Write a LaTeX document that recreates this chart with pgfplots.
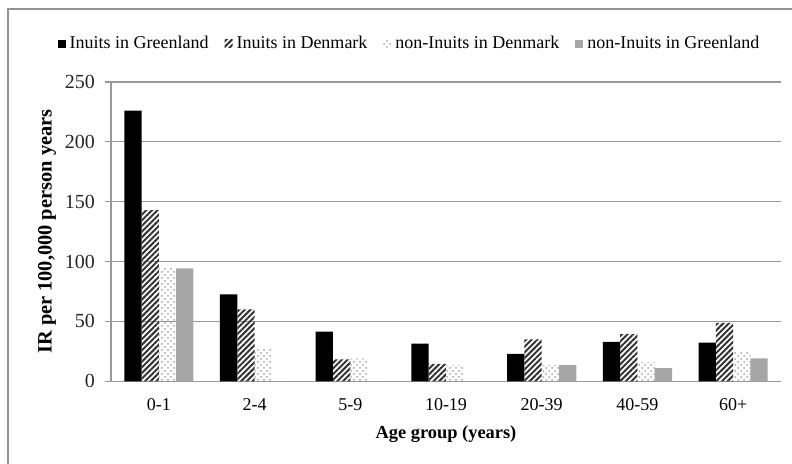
\documentclass[border=0pt]{standalone}
\usepackage{pgfplots}
\pgfplotsset{compat=1.18}
\usepackage{pgfplotstable}
\usepackage{fontspec}
\setmainfont{Liberation Serif}
\usetikzlibrary{patterns,patterns.meta}
\pgfplotstableread{
x A B C D
0 226 143 95 94.4
1 72.7 60 27 0
2 41.4 18.4 19 0
3 31.4 14.5 13.6 0
4 23 35 13.6 13.6
5 33 39.5 16 10.9
6 32.2 48.7 24.7 19.2
}\datatab
\begin{document}
\begin{tikzpicture}
\begin{axis}[
  at={(55.5pt,41.35pt)}, anchor=south west,
  scale only axis, width=335pt, height=149.65pt,
  ybar=0pt, bar width=8.65pt,
  xmin=-0.5, xmax=6.5, ymin=0, ymax=250,
  xtick={0,...,6},
  xticklabels={0-1,2-4,5-9,10-19,20-39,40-59,60+},
  x tick style={draw=none},
  extra x ticks={-0.5,0.5,1.5,2.5,3.5,4.5,5.5,6.5},
  extra x tick labels={},
  extra x tick style={major tick length=3pt, tick align=outside, tick style={draw=gray!80, line width=0.6pt}},
  ytick={0,50,...,250},
  y tick style={draw=gray!80, line width=0.6pt},
  tick align=outside, major tick length=3pt,
  ymajorgrids, major grid style={gray!80, line width=0.6pt},
  axis x line*=bottom, axis y line*=left,
  axis line style={gray!80, line width=0.6pt, -},
  /pgf/number format/assume math mode=true,
  x tick label style={font=\fontsize{9}{11}\selectfont, yshift=-2pt},
  y tick label style={font=\fontsize{10}{12}\selectfont, text=black!85, xshift=-1.5pt},
  xlabel={Age group (years)},
  xlabel style={font=\bfseries\fontsize{9.2}{11}\selectfont, at={(axis description cs:0.5,-0.175)}, anchor=center},
  ylabel={IR per 100,000 person years},
  ylabel style={font=\bfseries\fontsize{10.2}{12}\selectfont, at={(axis description cs:-0.0955,0.5)}, anchor=center},
  legend columns=4,
  legend style={draw=none, fill=none, at={(axis description cs:0.447,1.127)}, anchor=center,
    font=\fontsize{9}{11}\selectfont,
    /tikz/every even column/.append style={column sep=6pt}},
  legend image code/.code={\fill[#1] (0pt,-2pt) rectangle (4pt,2pt);},
]
\addplot[draw=none, fill=black] table[x=x,y=A]{\datatab};
\addplot[draw=none, pattern={Lines[angle=45,distance=2pt,line width=1pt]}, pattern color=black!80] table[x=x,y=B]{\datatab};
\addplot[draw=none, pattern=crosshatch dots, pattern color=black!35] table[x=x,y=C]{\datatab};
\addplot[draw=none, fill=black!35] table[x=x,y=D]{\datatab};
\legend{Inuits in Greenland,Inuits in Denmark,non-Inuits in Denmark,non-Inuits in Greenland}
\end{axis}
\draw[gray!85, line width=0.6pt] (4pt,0pt) -- (4pt,227.5pt) -- (400pt,227.5pt);
\pgfresetboundingbox
\path[use as bounding box] (0,0) rectangle (396pt,232pt);
\end{tikzpicture}
\end{document}
